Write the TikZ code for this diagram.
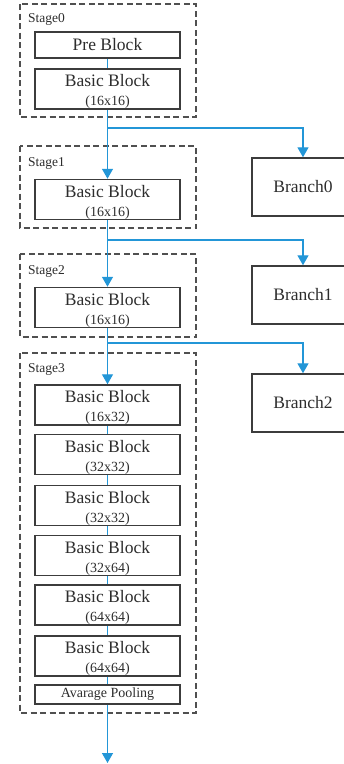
\documentclass[tikz,border=0pt]{standalone}
\usepackage{fontspec}
\setmainfont{Liberation Serif}
\usetikzlibrary{arrows.meta}

\definecolor{flowblue}{RGB}{35,150,215}
\definecolor{boxgray}{RGB}{60,60,60}
\definecolor{textgray}{RGB}{45,45,45}

\tikzset{
  block/.style={draw=boxgray, line width=1.5pt, text=textgray, minimum width=145pt,
    minimum height=40pt, align=center, inner sep=0pt, font=\fontsize{17.5}{19}\selectfont},
  branchbox/.style={block, minimum width=102pt, minimum height=58pt},
  stagebox/.style={draw=boxgray!90, line width=1.3pt, dash pattern=on 6pt off 3.5pt},
  stagelabel/.style={anchor=north west, inner sep=0pt, text=textgray, font=\fontsize{13.5}{15}\selectfont},
  flow/.style={draw=flowblue, line width=1.4pt},
  flowarrow/.style={flow, -{Triangle[width=11pt,length=10pt]}},
}
% two-line label: name, then size in brackets
\newcommand{\sz}[1]{\rule{0pt}{17pt}\\{\fontsize{14}{19}\selectfont(#1)}}

\begin{document}
\begin{tikzpicture}[x=1pt,y=-1pt]
\clip (0,0) rectangle (344,764);
\useasboundingbox (0,0) rectangle (344,764);

% stage frames
\draw[stagebox] (20,4) rectangle (196,117);
\draw[stagebox] (20,146) rectangle (196,228);
\draw[stagebox] (20,254) rectangle (196,337);
\draw[stagebox] (20,353) rectangle (196,713);
\node[stagelabel] (lab0) at (28,13) {Stage0};
\node[stagelabel] (lab1) at (28,157) {Stage1};
\node[stagelabel] (lab2) at (28,265) {Stage2};
\node[stagelabel] (lab3) at (28,363) {Stage3};

% backbone
\node[block, minimum height=26pt] (pre) at (107.5,45) {Pre Block};
\node[block] (b0) at (107.5,89) {Basic Block\sz{16x16}};
\node[block] (b1) at (107.5,199.5) {Basic Block\sz{16x16}};
\node[block] (b2) at (107.5,307.5) {Basic Block\sz{16x16}};
\node[block] (b3a) at (107.5,405) {Basic Block\sz{16x32}};
\node[block] (b3b) at (107.5,454.5) {Basic Block\sz{32x32}};
\node[block] (b3c) at (107.5,505.5) {Basic Block\sz{32x32}};
\node[block] (b3d) at (107.5,555.5) {Basic Block\sz{32x64}};
\node[block] (b3e) at (107.5,605) {Basic Block\sz{64x64}};
\node[block] (b3f) at (107.5,656) {Basic Block\sz{64x64}};
\node[block, minimum height=19pt, font=\fontsize{14}{16}\selectfont] (pool) at (107.5,694.5) {Avarage Pooling};
\coordinate (out) at (107.5,763);

% branches
\node[branchbox] (br0) at (303,187) {Branch0};
\node[branchbox] (br1) at (303,295) {Branch1};
\node[branchbox] (br2) at (303,403) {Branch2};

% connections
\draw[flow] (pre) -- (b0);
\draw[flowarrow] (b0) -- (b1);
\draw[flowarrow] (b1) -- (b2);
\draw[flowarrow] (b2) -- (b3a);
\draw[flow] (b3a) -- (b3b);
\draw[flow] (b3b) -- (b3c);
\draw[flow] (b3c) -- (b3d);
\draw[flow] (b3d) -- (b3e);
\draw[flow] (b3e) -- (b3f);
\draw[flow] (b3f) -- (pool);
\draw[flowarrow] (pool) -- (out);
\draw[flowarrow] (b0.south |- 0,128) -| (br0.north);
\draw[flowarrow] (b1.south |- 0,240) -| (br1.north);
\draw[flowarrow] (b2.south |- 0,343) -| (br2.north);
\end{tikzpicture}
\end{document}
